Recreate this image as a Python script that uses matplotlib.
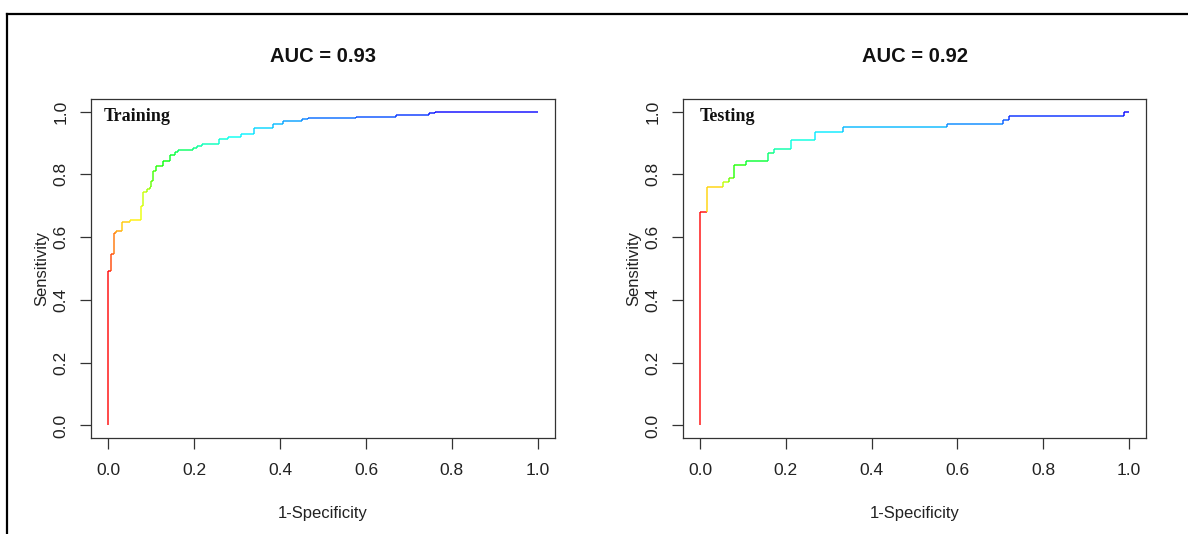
import numpy as np
import matplotlib.pyplot as plt
from matplotlib.collections import LineCollection
from matplotlib.colors import hsv_to_rgb
from matplotlib.lines import Line2D

plt.rcParams['font.family'] = ['Liberation Sans', 'DejaVu Sans']

# ROC staircase corners: at each fpr the curve climbs to tpr
train_fpr = [0.000, 0.006, 0.014, 0.019, 0.032, 0.050, 0.076, 0.082, 0.090, 0.098,
             0.100, 0.104, 0.112, 0.128, 0.145, 0.156, 0.162, 0.197, 0.207, 0.219,
             0.259, 0.280, 0.309, 0.339, 0.384, 0.407, 0.452, 0.465, 0.577, 0.671,
             0.746, 0.761]
train_tpr = [0.491, 0.545, 0.614, 0.621, 0.649, 0.655, 0.698, 0.744, 0.752, 0.759,
             0.778, 0.812, 0.826, 0.844, 0.863, 0.872, 0.879, 0.884, 0.890, 0.898,
             0.911, 0.918, 0.929, 0.948, 0.961, 0.969, 0.975, 0.979, 0.984, 0.990,
             0.996, 1.000]

test_fpr = [0.000, 0.016, 0.053, 0.068, 0.080, 0.107, 0.159, 0.172, 0.213, 0.268,
            0.334, 0.575, 0.707, 0.720, 0.988]
test_tpr = [0.681, 0.759, 0.774, 0.788, 0.829, 0.842, 0.867, 0.880, 0.908, 0.936,
            0.950, 0.960, 0.974, 0.987, 1.000]

titles = ['AUC = 0.93', 'AUC = 0.92']
tags = ['Training', 'Testing']
tag_x = [-0.01, 0.0]
ticks = [0.0, 0.2, 0.4, 0.6, 0.8, 1.0]
hue_gamma = [0.8, 0.6]  # how fast the rainbow runs along each curve


def staircase(fpr, tpr, gamma):
    segs = []
    cols = []
    n = len(fpr)
    prev = 0.0
    for i in range(n):
        nxt = fpr[i + 1] if i + 1 < n else 1.0
        segs.append([(fpr[i], prev), (fpr[i], tpr[i])])
        segs.append([(fpr[i], tpr[i]), (nxt, tpr[i])])
        c = hsv_to_rgb((0.67 * (i / (n - 1)) ** gamma, 1, 1))
        cols += [c, c]
        prev = tpr[i]
    return segs, cols


fig = plt.figure(figsize=(11.88, 5.34), dpi=100)
ax1 = fig.add_axes([91 / 1188, 1 - 438 / 534, 464 / 1188, 339 / 534])
ax2 = fig.add_axes([683 / 1188, 1 - 438 / 534, 463 / 1188, 339 / 534])

data = [(train_fpr, train_tpr), (test_fpr, test_tpr)]
for k, ax in enumerate([ax1, ax2]):
    segs, cols = staircase(data[k][0], data[k][1], hue_gamma[k])
    ax.add_collection(LineCollection(segs, colors=cols, linewidths=1.1, alpha=0.9))
    ax.set_xlim(-0.04, 1.04)
    ax.set_ylim(-0.04, 1.04)
    ax.set_xticks(ticks)
    ax.set_yticks(ticks)
    ax.set_xticklabels(['%.1f' % t for t in ticks])
    ax.set_yticklabels(['%.1f' % t for t in ticks], rotation=90, va='center')
    ax.tick_params(direction='out', length=8, width=0.9, pad=8,
                   labelsize=12.5, colors='#333333', labelcolor='#222222')
    ax.tick_params(axis='x', pad=10)
    for s in ax.spines.values():
        s.set_color('#333333')
        s.set_linewidth(0.9)
    ax.set_xlabel('1-Specificity', fontsize=12, color='#222222')
    ax.set_ylabel('Sensitivity', fontsize=12, color='#222222')
    ax.xaxis.set_label_coords(0.5, -0.2)
    ax.yaxis.set_label_coords(-0.09, 0.5)
    ax.text(0.5, 1.124, titles[k], transform=ax.transAxes, ha='center', va='center',
            fontsize=14.5, fontweight='bold', color='#111111')
    ax.text(tag_x[k], 0.985, tags[k], ha='left', va='center', fontsize=13,
            fontweight='bold', family='Liberation Serif', color='#111111')

# outer frame (cut off on the right and bottom)
fx = 7 / 1188
fy = 1 - 14 / 534
fig.add_artist(Line2D([fx, fx], [0, fy], color='black', linewidth=1.6))
fig.add_artist(Line2D([fx, 1], [fy, fy], color='black', linewidth=1.6))

plt.savefig('out.png', dpi=100)
